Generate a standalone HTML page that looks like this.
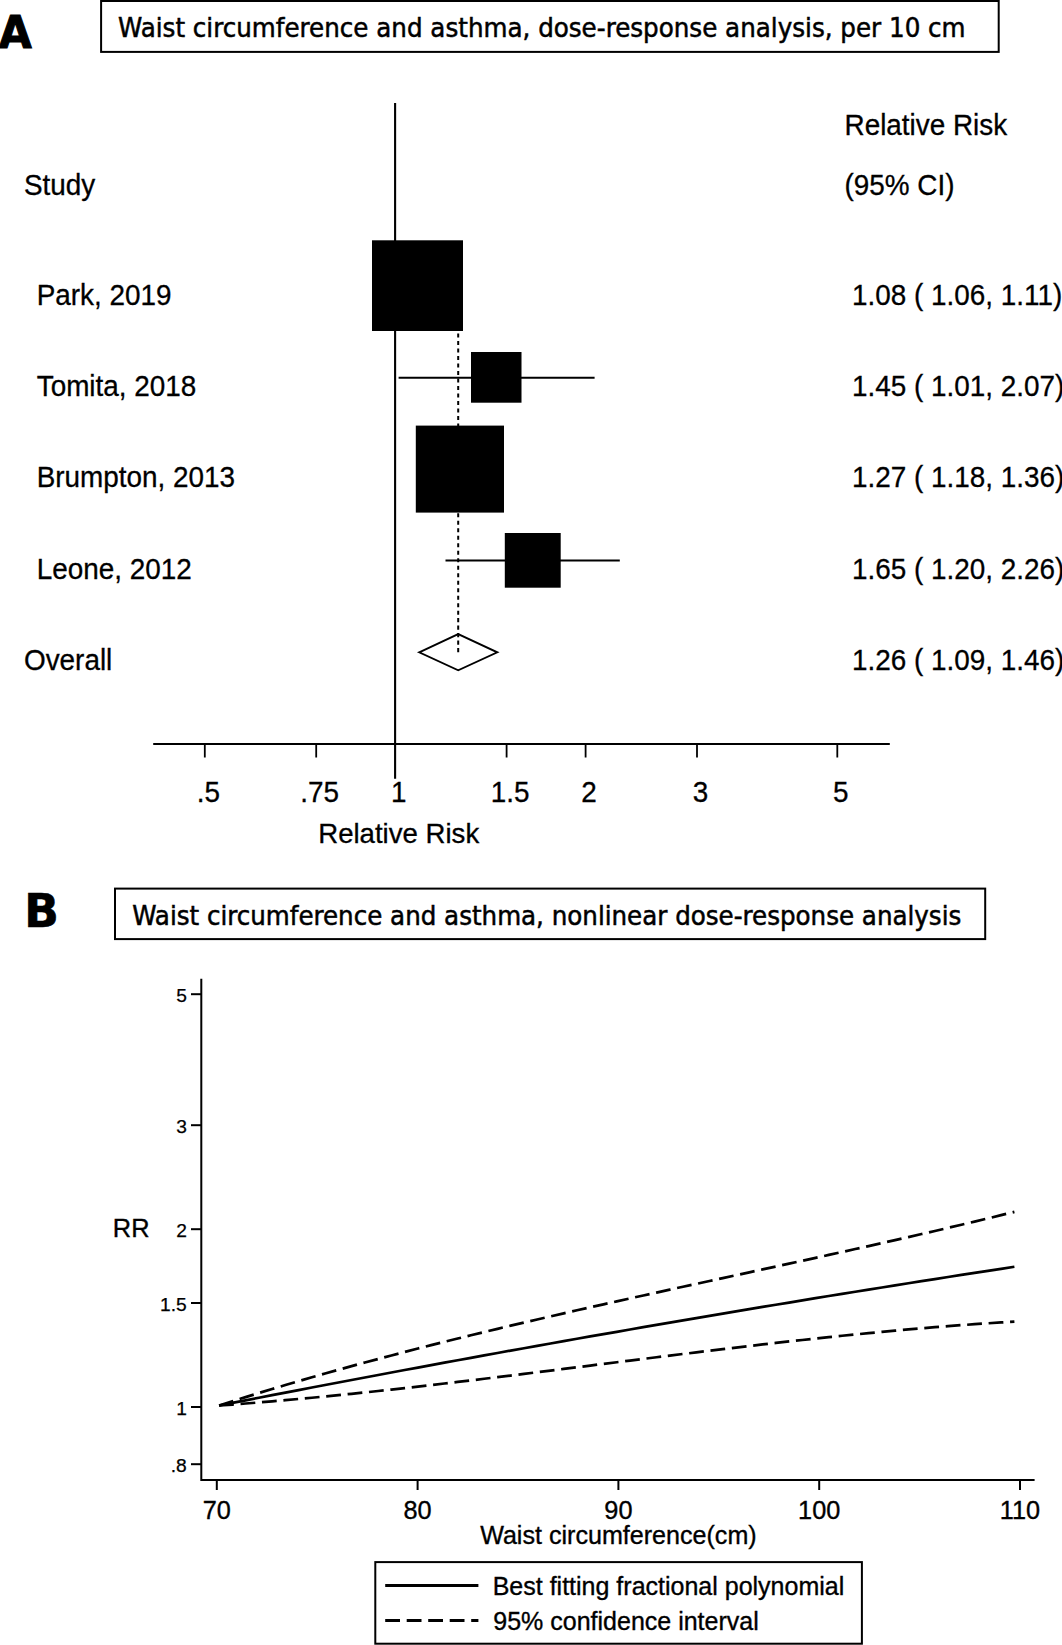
<!DOCTYPE html>
<html lang="en">
<head>
<meta charset="utf-8">
<title>Waist circumference and asthma</title>
<style>
html,body{margin:0;padding:0;background:#fff;}
body{width:1062px;height:1645px;overflow:hidden;}
svg{display:block;}
text{fill:#000;}
.a{font-family:"Liberation Sans",Arial,sans-serif;}
.t{font-family:"DejaVu Sans Condensed","DejaVu Sans",sans-serif;}
.tb{font-family:"DejaVu Sans Condensed","DejaVu Sans",sans-serif;font-weight:bold;}
</style>
</head>
<body>
<svg width="1062" height="1645" viewBox="0 0 1062 1645">
<rect x="0" y="0" width="1062" height="1645" fill="#fff"/>

<g id="panelA">
<text class="tb" x="-1.2" y="48.3" font-size="45.2" textLength="33" lengthAdjust="spacingAndGlyphs" stroke="#000" stroke-width="1" stroke-linejoin="miter">A</text>
<rect x="101.1" y="1" width="897.6" height="50.9" fill="#fff" stroke="#000" stroke-width="2"/>
<text class="t" x="118.1" y="37" font-size="27.4" textLength="847.5" lengthAdjust="spacingAndGlyphs" stroke="#000" stroke-width="0.5">Waist circumference and asthma, dose-response analysis, per 10 cm</text>
<g class="a">
<text transform="translate(24.0,194.9) scale(0.975,1)" font-size="28.6" text-anchor="start" stroke="#000" stroke-width="0.3">Study</text>
<text transform="translate(36.7,305.0) scale(0.975,1)" font-size="28.6" text-anchor="start" stroke="#000" stroke-width="0.3">Park, 2019</text>
<text transform="translate(36.7,395.7) scale(0.975,1)" font-size="28.6" text-anchor="start" stroke="#000" stroke-width="0.3">Tomita, 2018</text>
<text transform="translate(36.7,487.1) scale(0.975,1)" font-size="28.6" text-anchor="start" stroke="#000" stroke-width="0.3">Brumpton, 2013</text>
<text transform="translate(36.7,578.6) scale(0.975,1)" font-size="28.6" text-anchor="start" stroke="#000" stroke-width="0.3">Leone, 2012</text>
<text transform="translate(24.0,670.0) scale(0.975,1)" font-size="28.6" text-anchor="start" stroke="#000" stroke-width="0.3">Overall</text>
<text transform="translate(844.5,134.7) scale(0.975,1)" font-size="28.6" text-anchor="start" stroke="#000" stroke-width="0.3">Relative Risk</text>
<text transform="translate(844.5,194.8) scale(0.975,1)" font-size="28.6" text-anchor="start" stroke="#000" stroke-width="0.3">(95% CI)</text>
<text transform="translate(852,305.0) scale(0.975,1)" font-size="28.6" text-anchor="start" stroke="#000" stroke-width="0.3">1.08 ( 1.06, 1.11)</text>
<text transform="translate(852,395.7) scale(0.975,1)" font-size="28.6" text-anchor="start" stroke="#000" stroke-width="0.3">1.45 ( 1.01, 2.07)</text>
<text transform="translate(852,487.1) scale(0.975,1)" font-size="28.6" text-anchor="start" stroke="#000" stroke-width="0.3">1.27 ( 1.18, 1.36)</text>
<text transform="translate(852,578.6) scale(0.975,1)" font-size="28.6" text-anchor="start" stroke="#000" stroke-width="0.3">1.65 ( 1.20, 2.26)</text>
<text transform="translate(852,670.0) scale(0.975,1)" font-size="28.6" text-anchor="start" stroke="#000" stroke-width="0.3">1.26 ( 1.09, 1.46)</text>
</g>
<line x1="395.1" y1="102.9" x2="395.1" y2="778.8" stroke="#000" stroke-width="2.1"/>
<line x1="458.2" y1="333.5" x2="458.2" y2="652.5" stroke="#000" stroke-width="2" stroke-dasharray="4.1 3.39"/>
<line x1="398.6" y1="377.8" x2="594.6" y2="377.8" stroke="#000" stroke-width="2"/>
<line x1="445.5" y1="560.4" x2="619.8" y2="560.4" stroke="#000" stroke-width="2"/>
<rect x="372" y="240.3" width="91" height="90.7" fill="#000"/>
<rect x="471" y="352" width="50.5" height="50.7" fill="#000"/>
<rect x="415.8" y="425.6" width="88.2" height="87" fill="#000"/>
<rect x="504.8" y="533" width="55.9" height="54.7" fill="#000"/>
<polygon points="419.2,652.3 458.2,634.1 497.3,652.3 458.2,670.3" fill="none" stroke="#000" stroke-width="1.9"/>
<line x1="153.2" y1="744" x2="889.8" y2="744" stroke="#000" stroke-width="1.8"/>
<g stroke="#000" stroke-width="1.8">
<line x1="204.8" y1="744" x2="204.8" y2="757.5"/>
<line x1="316.2" y1="744" x2="316.2" y2="757.5"/>
<line x1="506.6" y1="744" x2="506.6" y2="757.5"/>
<line x1="585.6" y1="744" x2="585.6" y2="757.5"/>
<line x1="697.0" y1="744" x2="697.0" y2="757.5"/>
<line x1="837.3" y1="744" x2="837.3" y2="757.5"/>
</g>
<g class="a">
<text transform="translate(208.3,802.2) scale(0.975,1)" font-size="28.6" text-anchor="middle" stroke="#000" stroke-width="0.3">.5</text>
<text transform="translate(319.7,802.2) scale(0.975,1)" font-size="28.6" text-anchor="middle" stroke="#000" stroke-width="0.3">.75</text>
<text transform="translate(398.7,802.2) scale(0.975,1)" font-size="28.6" text-anchor="middle" stroke="#000" stroke-width="0.3">1</text>
<text transform="translate(510.1,802.2) scale(0.975,1)" font-size="28.6" text-anchor="middle" stroke="#000" stroke-width="0.3">1.5</text>
<text transform="translate(589.1,802.2) scale(0.975,1)" font-size="28.6" text-anchor="middle" stroke="#000" stroke-width="0.3">2</text>
<text transform="translate(700.5,802.2) scale(0.975,1)" font-size="28.6" text-anchor="middle" stroke="#000" stroke-width="0.3">3</text>
<text transform="translate(840.8,802.2) scale(0.975,1)" font-size="28.6" text-anchor="middle" stroke="#000" stroke-width="0.3">5</text>
<text transform="translate(398.7,843) scale(1.0,1)" font-size="27.6" text-anchor="middle" stroke="#000" stroke-width="0.3">Relative Risk</text>
</g>
</g>
<g id="panelB">
<text class="tb" x="24.3" y="926.5" font-size="45.6" textLength="34.6" lengthAdjust="spacingAndGlyphs" stroke="#000" stroke-width="0.6">B</text>
<rect x="115" y="888.6" width="870.2" height="50.5" fill="#fff" stroke="#000" stroke-width="2"/>
<text class="t" x="132.3" y="924.5" font-size="27.4" textLength="829" lengthAdjust="spacingAndGlyphs" stroke="#000" stroke-width="0.5">Waist circumference and asthma, nonlinear dose-response analysis</text>
<g stroke="#000" stroke-width="2" fill="none">
<polyline points="201.3,978.8 201.3,1480 1034.6,1480"/>
<line x1="191" y1="994.2" x2="201.3" y2="994.2"/>
<line x1="191" y1="1125.2" x2="201.3" y2="1125.2"/>
<line x1="191" y1="1229.2" x2="201.3" y2="1229.2"/>
<line x1="191" y1="1303.0" x2="201.3" y2="1303.0"/>
<line x1="191" y1="1407.0" x2="201.3" y2="1407.0"/>
<line x1="191" y1="1464.2" x2="201.3" y2="1464.2"/>
<line x1="216.8" y1="1480" x2="216.8" y2="1490"/>
<line x1="417.6" y1="1480" x2="417.6" y2="1490"/>
<line x1="618.4" y1="1480" x2="618.4" y2="1490"/>
<line x1="819.2" y1="1480" x2="819.2" y2="1490"/>
<line x1="1020.0" y1="1480" x2="1020.0" y2="1490"/>
</g>
<g class="a" font-size="19.2" text-anchor="end" stroke="#000" stroke-width="0.25">
<text x="186.8" y="1001.8">5</text>
<text x="186.8" y="1132.8">3</text>
<text x="186.8" y="1236.8">2</text>
<text x="186.8" y="1310.6">1.5</text>
<text x="186.8" y="1414.6">1</text>
<text x="186.8" y="1471.8">.8</text>
</g>
<text class="a" x="112.8" y="1236.9" font-size="25.4" stroke="#000" stroke-width="0.35">RR</text>
<g class="a" font-size="25.3" text-anchor="middle" stroke="#000" stroke-width="0.35">
<text x="216.8" y="1519.2">70</text>
<text x="417.6" y="1519.2">80</text>
<text x="618.4" y="1519.2">90</text>
<text x="819.2" y="1519.2">100</text>
<text x="1020.0" y="1519.2">110</text>
<text x="618.4" y="1543.6" font-size="25.1">Waist circumference(cm)</text>
</g>
<g fill="none" stroke="#000" stroke-width="2.7">
<path d="M219.1,1405.50 L232.4,1402.90 L245.6,1400.32 L258.9,1397.74 L272.1,1395.17 L285.4,1392.61 L298.6,1390.07 L311.9,1387.53 L325.1,1385.00 L338.4,1382.48 L351.6,1379.97 L364.9,1377.47 L378.2,1374.98 L391.4,1372.50 L404.7,1370.03 L417.9,1367.56 L431.2,1365.11 L444.4,1362.67 L457.7,1360.24 L470.9,1357.81 L484.2,1355.40 L497.5,1353.00 L510.7,1350.60 L524.0,1348.22 L537.2,1345.84 L550.5,1343.48 L563.7,1341.12 L577.0,1338.78 L590.2,1336.44 L603.5,1334.11 L616.8,1331.80 L630.0,1329.49 L643.3,1327.19 L656.5,1324.90 L669.8,1322.63 L683.0,1320.36 L696.3,1318.10 L709.5,1315.85 L722.8,1313.61 L736.0,1311.38 L749.3,1309.16 L762.6,1306.95 L775.8,1304.75 L789.1,1302.56 L802.3,1300.37 L815.6,1298.20 L828.8,1296.04 L842.1,1293.89 L855.3,1291.74 L868.6,1289.61 L881.9,1287.49 L895.1,1285.37 L908.4,1283.27 L921.6,1281.17 L934.9,1279.09 L948.1,1277.01 L961.4,1274.94 L974.6,1272.89 L987.9,1270.84 L1001.1,1268.80 L1014.4,1266.78"/>
<path d="M219.1,1405.50 L232.4,1401.27 L245.6,1397.12 L258.9,1393.03 L272.1,1389.01 L285.4,1385.05 L298.6,1381.15 L311.9,1377.31 L325.1,1373.53 L338.4,1369.80 L351.6,1366.13 L364.9,1362.51 L378.2,1358.95 L391.4,1355.43 L404.7,1351.96 L417.9,1348.53 L431.2,1345.15 L444.4,1341.81 L457.7,1338.51 L470.9,1335.25 L484.2,1332.02 L497.5,1328.83 L510.7,1325.67 L524.0,1322.54 L537.2,1319.44 L550.5,1316.37 L563.7,1313.32 L577.0,1310.30 L590.2,1307.30 L603.5,1304.32 L616.8,1301.36 L630.0,1298.41 L643.3,1295.48 L656.5,1292.56 L669.8,1289.65 L683.0,1286.75 L696.3,1283.86 L709.5,1280.97 L722.8,1278.09 L736.0,1275.20 L749.3,1272.32 L762.6,1269.44 L775.8,1266.55 L789.1,1263.66 L802.3,1260.76 L815.6,1257.85 L828.8,1254.93 L842.1,1252.00 L855.3,1249.05 L868.6,1246.09 L881.9,1243.11 L895.1,1240.10 L908.4,1237.08 L921.6,1234.03 L934.9,1230.96 L948.1,1227.86 L961.4,1224.74 L974.6,1221.58 L987.9,1218.38 L1001.1,1215.16 L1014.4,1211.90" stroke-dasharray="14.8 6.7"/>
<path d="M219.1,1405.50 L232.4,1404.53 L245.6,1403.51 L258.9,1402.45 L272.1,1401.34 L285.4,1400.18 L298.6,1398.98 L311.9,1397.75 L325.1,1396.47 L338.4,1395.15 L351.6,1393.80 L364.9,1392.42 L378.2,1391.01 L391.4,1389.56 L404.7,1388.09 L417.9,1386.59 L431.2,1385.07 L444.4,1383.53 L457.7,1381.96 L470.9,1380.38 L484.2,1378.78 L497.5,1377.16 L510.7,1375.54 L524.0,1373.89 L537.2,1372.24 L550.5,1370.59 L563.7,1368.92 L577.0,1367.25 L590.2,1365.58 L603.5,1363.91 L616.8,1362.24 L630.0,1360.57 L643.3,1358.91 L656.5,1357.25 L669.8,1355.61 L683.0,1353.97 L696.3,1352.34 L709.5,1350.73 L722.8,1349.13 L736.0,1347.56 L749.3,1346.00 L762.6,1344.46 L775.8,1342.94 L789.1,1341.45 L802.3,1339.99 L815.6,1338.55 L828.8,1337.15 L842.1,1335.78 L855.3,1334.44 L868.6,1333.13 L881.9,1331.87 L895.1,1330.64 L908.4,1329.45 L921.6,1328.31 L934.9,1327.21 L948.1,1326.16 L961.4,1325.15 L974.6,1324.20 L987.9,1323.30 L1001.1,1322.45 L1014.4,1321.66" stroke-dasharray="14.8 6.7"/>
</g>
<rect x="375.3" y="1562.1" width="486.6" height="81.6" fill="#fff" stroke="#000" stroke-width="2"/>
<line x1="385.2" y1="1585.5" x2="478.4" y2="1585.5" stroke="#000" stroke-width="3"/>
<line x1="385.2" y1="1620.4" x2="478.4" y2="1620.4" stroke="#000" stroke-width="3" stroke-dasharray="14.8 6.7"/>
<g class="a" font-size="25" stroke="#000" stroke-width="0.35">
<text x="492.7" y="1595.1">Best fitting fractional polynomial</text>
<text x="493.3" y="1630.1">95% confidence interval</text>
</g>
</g>
</svg>
</body>
</html>
